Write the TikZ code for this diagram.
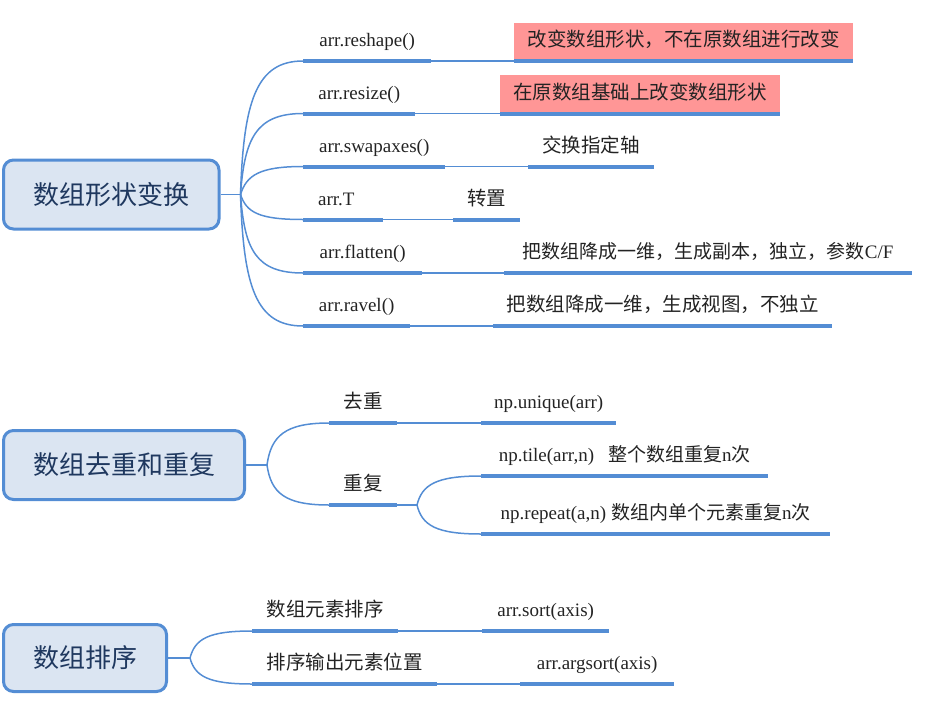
\documentclass[tikz,border=0pt]{standalone}
\usepackage{fontspec}
\setmainfont{Liberation Serif}
\newfontfamily\cjk{Noto Sans CJK SC}
\definecolor{lineblue}{RGB}{84,141,212}
\definecolor{rootfill}{RGB}{219,229,242}
\definecolor{roottext}{RGB}{31,56,95}
\definecolor{labeltext}{RGB}{35,35,35}
\definecolor{pinkfill}{RGB}{255,150,150}
\begin{document}
\begin{tikzpicture}[x=1pt,y=-1pt,
  root/.style={draw=lineblue, line width=3pt, fill=rootfill, rounded corners=10pt,
    text=roottext, font=\cjk\fontsize{26}{30}\selectfont, inner sep=0pt},
  lbl/.style={inner xsep=0pt, inner ysep=9pt, text height=15pt, text depth=5pt,
    anchor=south west, font=\fontsize{19}{22}\selectfont, text=labeltext},
  cn/.style={font=\cjk\fontsize{19.5}{22}\selectfont},
  pinkbox/.style={fill=pinkfill},
  conn/.style={draw=lineblue, line width=1.5pt},
  ul/.style={draw=lineblue, line width=4pt}]
\useasboundingbox (0,0) rectangle (947,707);

% ---------- group 1 ----------
\node[root, minimum width=215.5pt, minimum height=69pt] (r1) at (111.25,194.5) {数组形状变换};
\coordinate (f1) at (240.5,194.5);

\node[lbl, minimum width=128pt] (c1) at (303,61) {arr.reshape()};
\node[lbl, cn, pinkbox, minimum width=339pt] (d1) at (514,61) {改变数组形状，不在原数组进行改变};
\node[lbl, minimum width=112pt] (c2) at (303,113.5) {arr.resize()};
\node[lbl, cn, pinkbox, minimum width=280pt] (d2) at (500,113.5) {在原数组基础上改变数组形状};
\node[lbl, minimum width=142pt] (c3) at (303,166.5) {arr.swapaxes()};
\node[lbl, cn, minimum width=126pt] (d3) at (528,166.5) {交换指定轴};
\node[lbl, text width=50pt, align=left, inner xsep=15pt] (c4) at (303,219.5) {arr.T};
\node[lbl, cn, minimum width=67pt] (d4) at (453,219.5) {转置};
\node[lbl, minimum width=119pt] (c5) at (303,273) {arr.flatten()};
\node[lbl, minimum width=408pt] (d5) at (504,273) {{\cjk 把数组降成一维，生成副本，独立，参数}C/F};
\node[lbl, minimum width=107pt] (c6) at (303,326) {arr.ravel()};
\node[lbl, cn, minimum width=339pt] (d6) at (493,326) {把数组降成一维，生成视图，不独立};

\draw[conn] (r1.east) -- (f1);
\draw[conn] (f1) .. controls +(3,-92.75) and +(-47,0) .. (c1.south west);
\draw[conn] (f1) .. controls +(4,-56) and +(-47,0) .. (c2.south west);
\draw[conn] (f1) .. controls +(6,-19) and +(-44,0) .. (c3.south west);
\draw[conn] (f1) .. controls +(6,18) and +(-44,0) .. (c4.south west);
\draw[conn] (f1) .. controls +(4,55.6) and +(-47,0) .. (c5.south west);
\draw[conn] (f1) .. controls +(3,92.75) and +(-47,0) .. (c6.south west);
\foreach \a/\b in {c1/d1,c2/d2,c3/d3,c4/d4,c5/d5,c6/d6}{
  \draw[conn] (\a.south east) -- (\b.south west);
  \draw[ul] (\a.south west) -- (\a.south east);
  \draw[ul] (\b.south west) -- (\b.south east);
}

% ---------- group 2 ----------
\node[root, minimum width=241pt, minimum height=69pt] (r2) at (124,465) {数组去重和重复};
\coordinate (f2) at (267,465);
\node[lbl, cn, minimum width=68pt] (e1) at (329,423) {去重};
\node[lbl, minimum width=135pt] (e1d) at (481,423) {np.unique(arr)};
\node[lbl, cn, minimum width=68pt] (e2) at (329,505) {重复};
\coordinate (f3) at (417,505);
\node[lbl, minimum width=287pt] (e3) at (481,476) {np.tile(arr,n)\hspace{14pt}{\cjk 整个数组重复}n{\cjk 次}};
\node[lbl, minimum width=349pt] (e4) at (481,534) {np.repeat(a,n)\hspace{5pt}{\cjk 数组内单个元素重复}n{\cjk 次}};

\draw[conn] (r2.east) -- (f2);
\draw[conn] (f2) .. controls +(4,-29) and +(-44,0) .. (e1.south west);
\draw[conn] (f2) .. controls +(4,28) and +(-44,0) .. (e2.south west);
\draw[conn] (e1.south east) -- (e1d.south west);
\draw[conn] (e2.south east) -- (f3);
\draw[conn] (f3) .. controls +(5,-20.3) and +(-45,0) .. (e3.south west);
\draw[conn] (f3) .. controls +(5,20.3) and +(-45,0) .. (e4.south west);
\foreach \n in {e1,e1d,e2,e3,e4}{
  \draw[ul] (\n.south west) -- (\n.south east);
}

% ---------- group 3 ----------
\node[root, minimum width=163pt, minimum height=67pt] (r3) at (85,658) {数组排序};
\coordinate (f4) at (190,658);
\node[lbl, cn, minimum width=146pt] (h1) at (252,631) {数组元素排序};
\node[lbl, minimum width=127pt] (h1d) at (482,631) {arr.sort(axis)};
\node[lbl, cn, minimum width=185pt] (h2) at (252,684) {排序输出元素位置};
\node[lbl, minimum width=154pt] (h2d) at (520,684) {arr.argsort(axis)};

\draw[conn] (r3.east) -- (f4);
\draw[conn] (f4) .. controls +(5,-19) and +(-44,0) .. (h1.south west);
\draw[conn] (f4) .. controls +(5,18.2) and +(-44,0) .. (h2.south west);
\draw[conn] (h1.south east) -- (h1d.south west);
\draw[conn] (h2.south east) -- (h2d.south west);
\foreach \n in {h1,h1d,h2,h2d}{
  \draw[ul] (\n.south west) -- (\n.south east);
}
\end{tikzpicture}
\end{document}
